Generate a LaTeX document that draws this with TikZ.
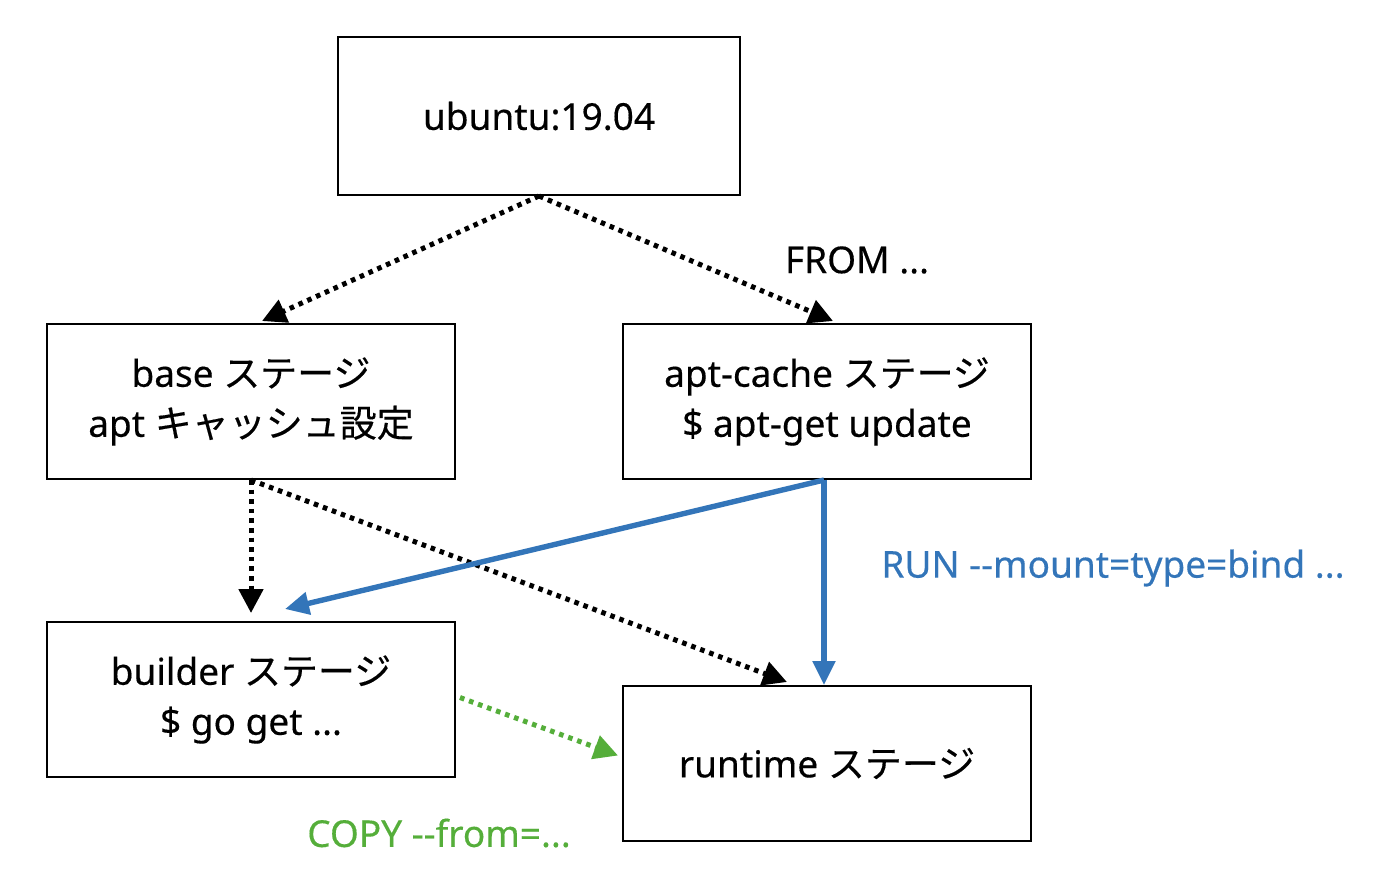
\documentclass[tikz,border=0pt]{standalone}
\usepackage{fontspec}
\setmainfont{Noto Sans}[FakeBold=0.35]
\newfontfamily\jp{Noto Sans CJK JP}[FakeBold=0.35]
\usetikzlibrary{arrows.meta}
\definecolor{runblue}{HTML}{3375B9}
\definecolor{copygreen}{HTML}{55AE3A}
\tikzset{
  stagebox/.style={draw=black, line width=1pt, fill=white, align=center, font=\fontsize{18.5}{25}\selectfont, inner sep=0pt},
  dotarrow/.style={line width=2.5pt, dash pattern=on 2.3pt off 2.5pt, -{Triangle[length=12pt,width=12pt]}},
  solidarrow/.style={line width=2.7pt, -{Triangle[length=12pt,width=11pt]}},
  lbl/.style={font=\fontsize{18.5}{20}\selectfont, inner sep=0pt}
}
\begin{document}
\begin{tikzpicture}[x=0.5pt,y=-0.5pt]
\useasboundingbox (0,0) rectangle (1400,880);
\node[stagebox, minimum width=201pt, minimum height=79pt] (ubuntu) at (539,116) {ubuntu:19.04};
\node[stagebox, minimum width=204pt, minimum height=77.5pt] (base) at (251,401.5) {base {\jp ステージ}\\apt {\jp キャッシュ設定}};
\node[stagebox, minimum width=204pt, minimum height=77.5pt] (apt) at (827,401.5) {apt-cache {\jp ステージ}\\\$ apt-get update};
\node[stagebox, minimum width=204pt, minimum height=77.5pt] (builder) at (251,699.5) {builder {\jp ステージ}\\\$ go get ...};
\node[stagebox, minimum width=204pt, minimum height=77.5pt] (runtime) at (827,763.5) {runtime {\jp ステージ}};

\draw[dotarrow] (ubuntu.south) -- ([xshift=5.5pt,yshift=1pt]base.north);
\draw[dotarrow] (ubuntu.south) -- ([xshift=3pt,yshift=1pt]apt.north);
\draw[dotarrow] (base.south) -- ([yshift=4pt]builder.north);
\draw[dotarrow] (base.south) -- ([xshift=-20pt,yshift=1.5pt]runtime.north);
\draw[solidarrow, runblue] ([xshift=-1.5pt]apt.south) -- ([xshift=17pt,yshift=6pt]builder.north);
\draw[solidarrow, runblue] ([xshift=-1.5pt]apt.south) -- ([xshift=-1.5pt]runtime.north);
\draw[dotarrow, copygreen] ([xshift=2pt,yshift=1pt]builder.east) -- ([xshift=-2pt,yshift=4pt]runtime.west);

\node[lbl] (from) at (857,260) {FROM ...};
\node[lbl, text=runblue] (run) at (1113,568) {RUN -{}-mount=type=bind ...};
\node[lbl, text=copygreen] (copy) at (439,833) {COPY -{}-from=...};
\end{tikzpicture}
\end{document}
